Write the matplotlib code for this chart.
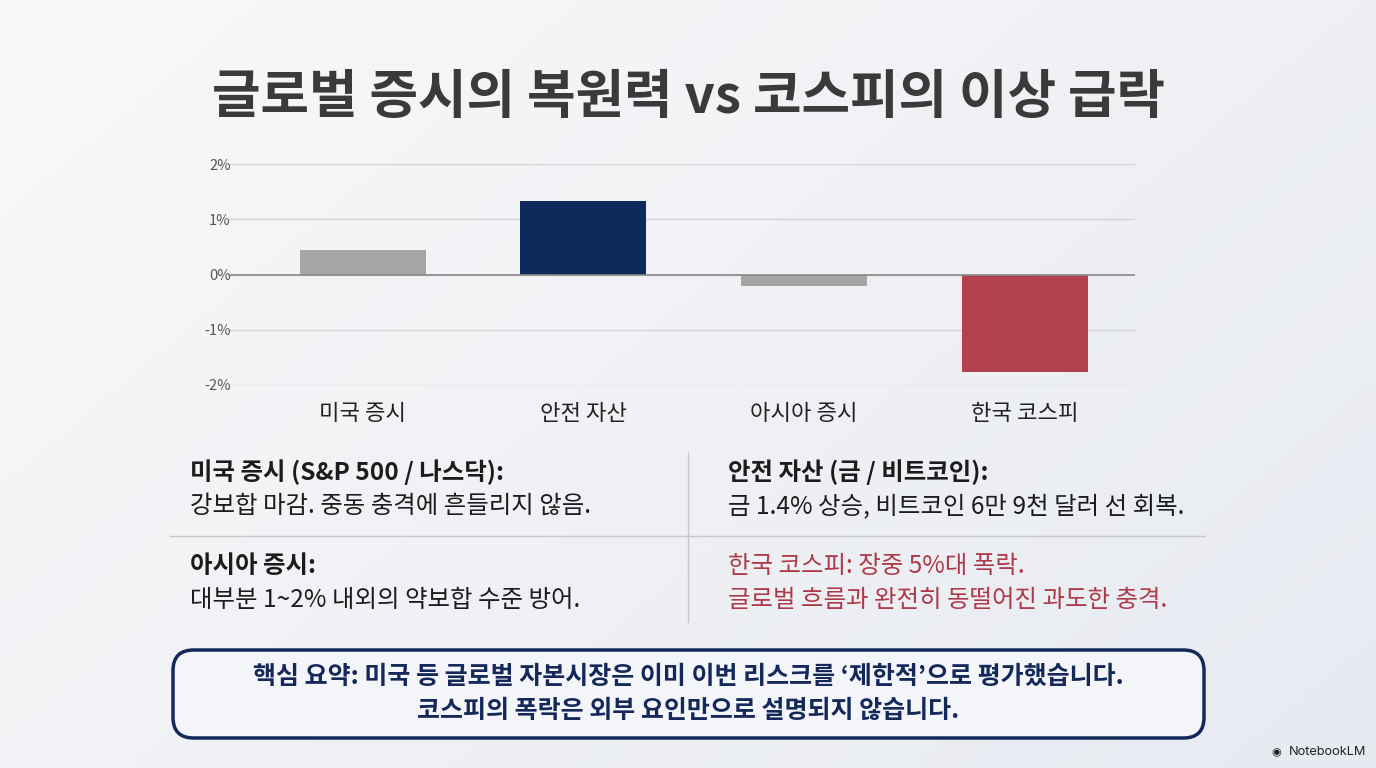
import matplotlib
matplotlib.use("Agg")
import matplotlib.pyplot as plt
import numpy as np
from matplotlib.patches import FancyBboxPatch

plt.rcParams['font.family'] = ['Noto Sans CJK KR', 'DejaVu Sans']

categories = ['미국 증시', '안전 자산', '아시아 증시', '한국 코스피']
values = [0.44, 1.33, -0.20, -1.76]
bar_colors = ['#a5a5a5', '#0d2a5c', '#a5a5a5', '#b3404e']
yticks = [-2, -1, 0, 1, 2]
ytick_labels = ['-2%', '-1%', '0%', '1%', '2%']

title = '글로벌 증시의 복원력 vs 코스피의 이상 급락'
left_blocks = [('미국 증시 (S&P 500 / 나스닥):', '강보합 마감. 중동 충격에 흔들리지 않음.'),
               ('아시아 증시:', '대부분 1~2% 내외의 약보합 수준 방어.')]
right_blocks = [('안전 자산 (금 / 비트코인):', '금 1.4% 상승, 비트코인 6만 9천 달러 선 회복.'),
                ('한국 코스피: 장중 5%대 폭락.', '글로벌 흐름과 완전히 동떨어진 과도한 충격.')]
summary = ['핵심 요약: 미국 등 글로벌 자본시장은 이미 이번 리스크를 ‘제한적’으로 평가했습니다.',
           '코스피의 폭락은 외부 요인만으로 설명되지 않습니다.']

W, H = 1376, 768
fig = plt.figure(figsize=(W/100, H/100), dpi=100)

# background gradient
bg = fig.add_axes([0, 0, 1, 1], zorder=-10)
xx, yy = np.meshgrid(np.linspace(0, 1, 200), np.linspace(0, 1, 200))
t = (xx * 0.6 + yy * 0.4)
c0 = np.array([0.975, 0.975, 0.975])
c1 = np.array([0.905, 0.918, 0.945])
img = c0[None, None, :] * (1 - t[..., None]) + c1[None, None, :] * t[..., None]
bg.imshow(img, extent=[0, 1, 0, 1], aspect='auto', origin='upper')
bg.set_xlim(0, 1); bg.set_ylim(0, 1)
bg.axis('off')

def fx(px):
    return px / W

def fy(py):
    return 1 - py / H

# title
fig.text(fx(688), fy(97), title, ha='center', va='center', fontsize=38,
         fontweight='bold', color='#3a3a3a')

# chart axes
ax = fig.add_axes([fx(228), fy(385), fx(1135) - fx(228), fy(164) - fy(385)])
ax.set_facecolor('none')
x = np.arange(len(categories))
ax.bar(x, values, width=0.57, color=bar_colors, zorder=3)
ax.set_xlim(-0.61, 3.5)
ax.set_ylim(-2, 2)
ax.set_yticks(yticks)
ax.set_yticklabels(ytick_labels)
ax.grid(axis='y', color='#d4d4d4', linewidth=1.0, zorder=0)
ax.axhline(0, color='#8a8a8a', linewidth=1.2, zorder=4)
for s in ax.spines.values():
    s.set_visible(False)
ax.tick_params(axis='both', length=0)
ax.tick_params(axis='y', labelsize=10.5, labelcolor='#555555', pad=-2)
ax.set_xticks(x)
ax.set_xticklabels(categories, fontsize=16, color='#222222')
ax.tick_params(axis='x', pad=12)

# text blocks
FS = 17.6
def block(xp, yp1, yp2, head, body, color='#1c1c1c', headweight='bold', bodyweight='normal'):
    fig.text(fx(xp), fy(yp1), head, ha='left', va='center', fontsize=FS,
             fontweight=headweight, color=color)
    fig.text(fx(xp), fy(yp2), body, ha='left', va='center', fontsize=FS,
             fontweight=bodyweight, color=color)

block(190, 472, 506, *left_blocks[0])
block(190, 566, 600, *left_blocks[1])
block(728, 472, 506, *right_blocks[0])
block(728, 566, 600, *right_blocks[1], color='#ad3a48', headweight='medium', bodyweight='medium')

# dividers
fig.add_artist(plt.Line2D([fx(688), fx(688)], [fy(452), fy(622)], color='#c8c8c8', linewidth=1))
fig.add_artist(plt.Line2D([fx(170), fx(1205)], [fy(536), fy(536)], color='#c8c8c8', linewidth=1))

# summary box
box = FancyBboxPatch((fx(173), fy(738)), fx(1204) - fx(173), fy(650) - fy(738),
                     boxstyle='round,pad=0,rounding_size=0.015',
                     transform=fig.transFigure, facecolor='#f4f5f9', edgecolor='#14285a',
                     linewidth=2.5, mutation_aspect=W / H)
fig.add_artist(box)
fig.text(fx(688), fy(677), summary[0], ha='center', va='center', fontsize=18,
         fontweight='bold', color='#14285a')
fig.text(fx(688), fy(711), summary[1], ha='center', va='center', fontsize=18,
         fontweight='bold', color='#14285a')

# logo
fig.text(fx(1366), fy(752), 'NotebookLM', ha='right', va='center', fontsize=9.2,
         color='#222222', family=['Inter', 'DejaVu Sans'])
fig.text(fx(1276), fy(752), '◉', ha='center', va='center', fontsize=8, color='#222222',
         family=['DejaVu Sans'])

fig.savefig('out.png', dpi=100)
